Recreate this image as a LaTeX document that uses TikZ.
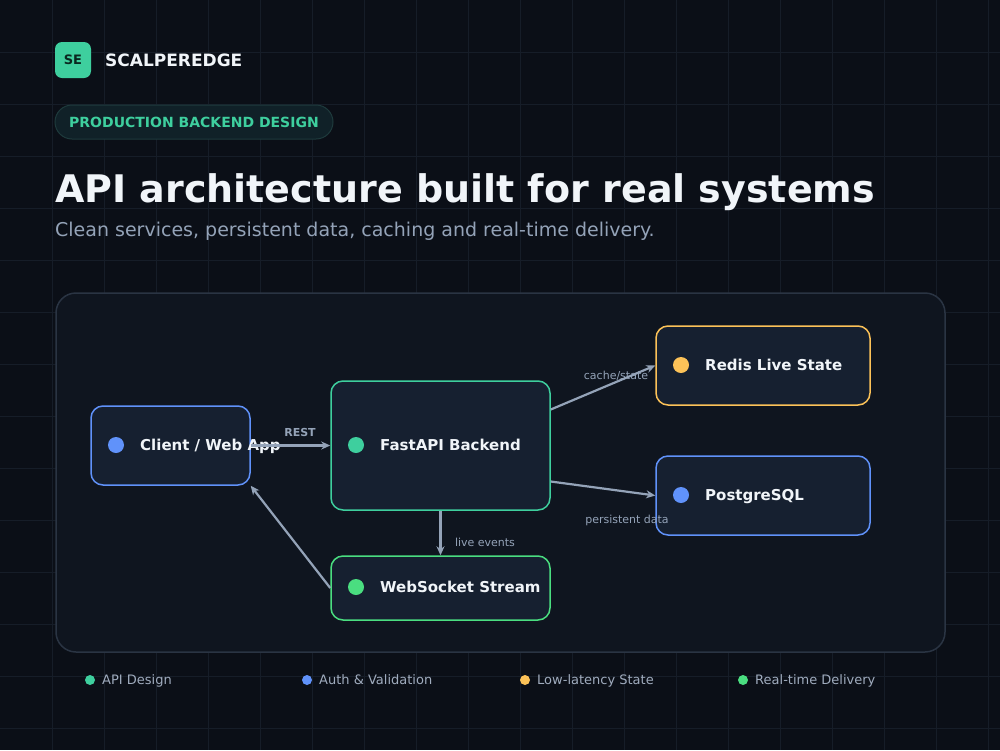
\documentclass[tikz,border=0pt]{standalone}
\usepackage{fontspec}
\setmainfont{DejaVu Sans}
\usepackage{xcolor}
\usepackage{tikz}
\usetikzlibrary{arrows.meta, positioning, calc}
\definecolor{bgdark}{RGB}{11,15,23}
\definecolor{gridcolor}{RGB}{22,29,40}
\definecolor{panelfill}{RGB}{15,21,31}
\definecolor{panelline}{RGB}{42,52,67}
\definecolor{nodefill}{RGB}{22,32,48}
\definecolor{tealaccent}{RGB}{62,207,158}
\definecolor{greenaccent}{RGB}{74,222,128}
\definecolor{blueaccent}{RGB}{96,146,250}
\definecolor{amberaccent}{RGB}{252,194,88}
\definecolor{flowgray}{RGB}{148,163,184}
\definecolor{softwhite}{RGB}{241,245,249}
\definecolor{mutedtext}{RGB}{160,172,190}
\definecolor{pillfill}{RGB}{16,33,40}
\definecolor{pillline}{RGB}{30,58,60}
\definecolor{logotext}{RGB}{10,40,32}

\begin{document}
\begin{tikzpicture}[
    x=1pt, y=-1pt,
    box/.style={draw, line width=1.5pt, fill=nodefill, rounded corners=12pt, inner sep=0pt},
    dot/.style={circle, inner sep=0pt, minimum size=16pt},
    boxtext/.style={anchor=base west, font=\fontsize{15}{18}\selectfont\bfseries, text=softwhite, inner sep=0pt},
    flow/.style={draw=flowgray, line width=2.2pt, -{Stealth[length=9pt, width=8pt]}},
    edgelabel/.style={anchor=base, font=\fontsize{11}{13}\selectfont, text=flowgray, inner sep=0pt},
    legenddot/.style={circle, inner sep=0pt, minimum size=10pt}
]
    % Background and grid
    \fill[bgdark] (0,0) rectangle (1000,750);
    \useasboundingbox (0,0) rectangle (1000,750);
    \foreach \x in {52,104,...,988} \draw[gridcolor, line width=1pt] (\x,0) -- (\x,750);
    \foreach \y in {52,104,...,728} \draw[gridcolor, line width=1pt] (0,\y) -- (1000,\y);

    % Header
    \node[fill=tealaccent, rounded corners=7pt, minimum size=36pt, inner sep=0pt,
          font=\fontsize{13}{15}\selectfont\bfseries, text=logotext] (logo) at (73,60) {SE};
    \node[anchor=base west, font=\fontsize{17}{20}\selectfont\bfseries, text=softwhite, inner sep=0pt] (brand) at (105,66.2) {SCALPEREDGE};
    \node[draw=pillline, fill=pillfill, line width=1pt, rounded corners=17pt, minimum width=278pt, minimum height=34pt,
          inner sep=0pt] (pill) at (194,122) {};
    \node[anchor=base west, font=\fontsize{14}{16}\selectfont\bfseries, text=tealaccent, inner sep=0pt] (pilltext) at (69,127.1) {PRODUCTION BACKEND DESIGN};
    \node[anchor=base west, font=\fontsize{38}{46}\selectfont\bfseries, text=softwhite, inner sep=0pt] (title) at (55,202.5) {API architecture built for real systems};
    \node[anchor=base west, font=\fontsize{19}{23}\selectfont, text=flowgray, inner sep=0pt] (subtitle) at (55,236) {Clean services, persistent data, caching and real-time delivery.};

    % Panel
    \node[draw=panelline, fill=panelfill, line width=1.5pt, rounded corners=20pt, minimum width=889pt, minimum height=359pt,
          inner sep=0pt] (panel) at (500.5,472.5) {};

    % Services
    \node[box, draw=blueaccent, minimum width=159pt, minimum height=79pt] (client) at (170.5,445.5) {};
    \node[box, draw=tealaccent, minimum width=219pt, minimum height=129pt] (api) at (440.5,445.5) {};
    \node[box, draw=greenaccent, minimum width=219pt, minimum height=64pt] (ws) at (440.5,588) {};
    \node[box, draw=amberaccent, minimum width=214pt, minimum height=79pt] (redis) at (763,365.5) {};
    \node[box, draw=blueaccent, minimum width=214pt, minimum height=79pt] (pg) at (763,495.5) {};

    \node[dot, fill=blueaccent] (clientdot) at (116,445) {};
    \node[boxtext] (clienttext) at (140,450.5) {Client / Web App};
    \node[dot, fill=tealaccent] (apidot) at (356,445) {};
    \node[boxtext] (apitext) at (380,450.5) {FastAPI Backend};
    \node[dot, fill=greenaccent] (wsdot) at (356,587) {};
    \node[boxtext] (wstext) at (380,592.5) {WebSocket Stream};
    \node[dot, fill=amberaccent] (redisdot) at (681,365) {};
    \node[boxtext] (redistext) at (705,370.5) {Redis Live State};
    \node[dot, fill=blueaccent] (pgdot) at (681,495) {};
    \node[boxtext] (pgtext) at (705,500.5) {PostgreSQL};

    % Flows
    \draw[flow] (client.east) -- (api.west);
    \node[edgelabel, font=\fontsize{11}{13}\selectfont\bfseries] (restlabel) at (300,436) {REST};
    \draw[flow] ([yshift=36pt]api.east) -- (redis.west);
    \node[edgelabel] (cachelabel) at (616,379) {cache/state};
    \draw[flow] ([yshift=-36pt]api.east) -- (pg.west);
    \node[edgelabel] (persistlabel) at (627,523) {persistent data};
    \draw[flow] (api.south) -- (ws.north);
    \node[edgelabel] (livelabel) at (485,546) {live events};
    \draw[flow] (ws.west) -- (client.south east);

    % Legend
    \foreach \lx/\lcol/\ltext [count=\i] in {90/tealaccent/API Design, 307/blueaccent/Auth \& Validation,
                                             525/amberaccent/Low-latency State, 743/greenaccent/Real-time Delivery} {
        \node[legenddot, fill=\lcol] (legdot\i) at (\lx,680) {};
        \node[anchor=base west, font=\fontsize{13}{15}\selectfont, text=mutedtext, inner sep=0pt] (legtext\i) at (\lx+12,684.7) {\ltext};
    }
\end{tikzpicture}
\end{document}
